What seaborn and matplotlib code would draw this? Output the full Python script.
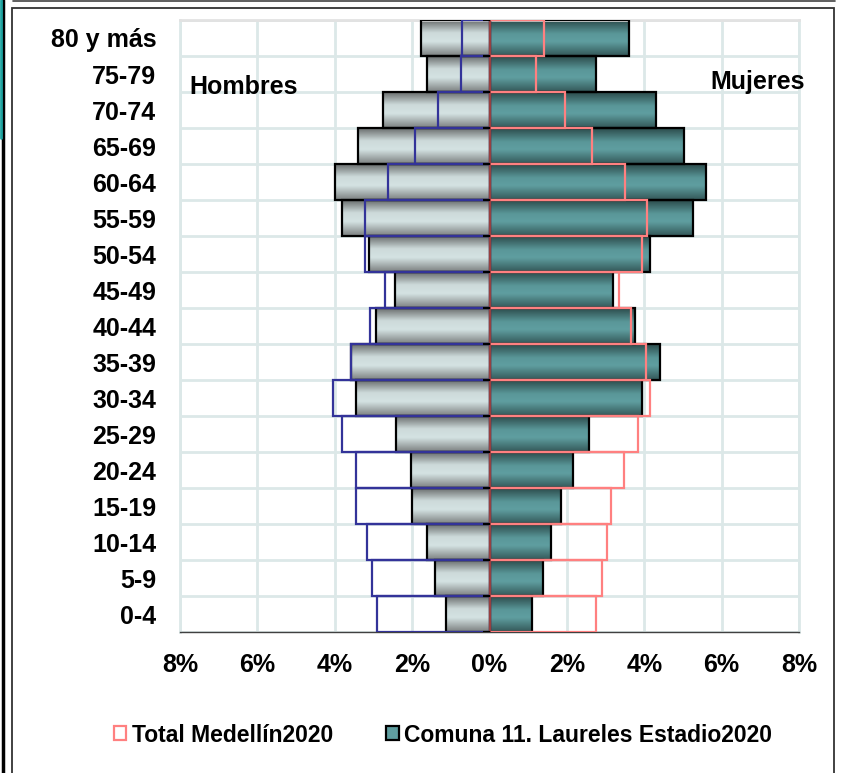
import numpy as np
import pandas as pd
import seaborn as sns
import matplotlib
matplotlib.use("Agg")
import matplotlib.pyplot as plt
from matplotlib.patches import Patch, Rectangle
from matplotlib.lines import Line2D
from matplotlib.colors import LinearSegmentedColormap

# datos (% de la poblacion total), de arriba hacia abajo
grupos = ["80 y más", "75-79", "70-74", "65-69", "60-64", "55-59", "50-54", "45-49",
          "40-44", "35-39", "30-34", "25-29", "20-24", "15-19", "10-14", "5-9", "0-4"]
hombres_comuna = [1.76, 1.61, 2.74, 3.40, 4.00, 3.82, 3.12, 2.43, 2.94, 3.57, 3.44,
                  2.41, 2.04, 2.01, 1.62, 1.40, 1.13]
hombres_medellin = [0.72, 0.74, 1.34, 1.93, 2.62, 3.21, 3.22, 2.71, 3.08, 3.58, 4.05,
                    3.82, 3.44, 3.45, 3.17, 3.03, 2.90]
mujeres_comuna = [3.61, 2.75, 4.30, 5.02, 5.59, 5.26, 4.14, 3.18, 3.75, 4.40, 3.93,
                  2.56, 2.15, 1.85, 1.59, 1.38, 1.09]
mujeres_medellin = [1.40, 1.19, 1.96, 2.64, 3.51, 4.08, 3.94, 3.35, 3.67, 4.04, 4.16,
                    3.85, 3.48, 3.14, 3.04, 2.91, 2.75]
xticks = [-8, -6, -4, -2, 0, 2, 4, 6, 8]

df = pd.DataFrame({
    "grupo": grupos,
    "h_comuna": [-v for v in hombres_comuna],
    "h_med": [-v for v in hombres_medellin],
    "m_comuna": mujeres_comuna,
    "m_med": mujeres_medellin,
})

sns.set_style("white")
plt.rcParams["font.family"] = ["Liberation Sans", "DejaVu Sans"]
plt.rcParams["font.weight"] = "bold"
plt.rcParams["text.color"] = "black"
plt.rcParams["xtick.labelcolor"] = "black"
plt.rcParams["ytick.labelcolor"] = "black"

fig = plt.figure(figsize=(8.44, 7.73), dpi=100)
ax = fig.add_axes([180 / 844, 1 - 632 / 773, 619 / 844, 612 / 773])

grid_col = "#DCE8E8"
ax.set_axisbelow(True)

# barras comuna (relleno con degradado despues)
n0 = len(ax.patches)
sns.barplot(data=df, x="h_comuna", y="grupo", orient="h", width=1.0,
            color="#CFDCDC", edgecolor="black", linewidth=1.6, ax=ax, zorder=2)
sns.barplot(data=df, x="m_comuna", y="grupo", orient="h", width=1.0,
            color="#5F9EA0", edgecolor="black", linewidth=1.6, ax=ax, zorder=2)
comuna_patches = ax.patches[n0:]
n_h = len(grupos)

# barras Medellin (solo contorno)
sns.barplot(data=df, x="h_med", y="grupo", orient="h", width=1.0,
            fill=False, edgecolor="#333399", linewidth=1.6, ax=ax, zorder=4)
sns.barplot(data=df, x="m_med", y="grupo", orient="h", width=1.0,
            fill=False, edgecolor="#FF8080", linewidth=1.6, ax=ax, zorder=4)

cmap_h = LinearSegmentedColormap.from_list(
    "h", [(0, "#6A6E6E"), (0.35, "#CDDADA"), (0.6, "#D4E2E2"), (1, "#7C8080")])
cmap_m = LinearSegmentedColormap.from_list(
    "m", [(0, "#2C4C4C"), (0.38, "#5A9799"), (0.6, "#5F9EA0"), (1, "#345858")])
grad = np.linspace(0, 1, 64).reshape(-1, 1)
for i, p in enumerate(comuna_patches):
    bb = p.get_bbox()
    cm = cmap_h if i < n_h else cmap_m
    im = ax.imshow(grad, cmap=cm, aspect="auto", interpolation="bicubic",
                   extent=[bb.x0, bb.x1, bb.y1, bb.y0], zorder=2)
    im.set_clip_path(p)
    p.set_facecolor("none")
    p.set_zorder(3)

ax.set_aspect("auto")
ax.set_xlim(-8, 8)
ax.set_ylim(len(grupos) - 0.5, -0.5)

# eje vertical en 0 y sus marcas
ax.axvline(0, color="#8B3A3A", lw=1.3, zorder=5)
ax.hlines(np.arange(-0.5, len(grupos), 1), -0.18, 0, color="black", lw=1.5, zorder=5)

ax.set_xticks(xticks)
ax.set_xticklabels([f"{abs(v)}%" for v in xticks], fontsize=18, fontweight="bold")
ax.set_yticks(range(len(grupos)))
ax.set_yticklabels(grupos, fontsize=18, fontweight="bold")
ax.set_yticks(np.arange(-0.5, len(grupos), 1), minor=True)
ax.tick_params(axis="y", which="both", length=0, pad=17)
ax.tick_params(axis="x", length=6, width=1, color="#404040", pad=9)
ax.grid(axis="x", which="major", color=grid_col, lw=2)
ax.grid(axis="y", which="minor", color=grid_col, lw=2)
ax.grid(axis="y", which="major", visible=False)
ax.set_xlabel("")
ax.set_ylabel("")

for s in ["left", "right"]:
    ax.spines[s].set_color(grid_col)
    ax.spines[s].set_linewidth(2)
ax.spines["top"].set_color("#E2E2E2")
ax.spines["top"].set_linewidth(2)
ax.spines["bottom"].set_color("#404040")
ax.spines["bottom"].set_linewidth(1)

ax.text(-7.75, 1.36, "Hombres", fontsize=18, fontweight="bold", ha="left", va="center", zorder=6)
ax.text(8.15, 1.22, "Mujeres", fontsize=18, fontweight="bold", ha="right", va="center",
        zorder=6, clip_on=False)

handles = [Patch(facecolor="white", edgecolor="#FF8080", linewidth=1.6),
           Patch(facecolor="#5F9EA0", edgecolor="black", linewidth=1.6)]
fig.legend(handles, ["Total Medellín2020", "Comuna 11. Laureles Estadio2020"],
           loc="center", bbox_to_anchor=(443 / 844, 1 - 735 / 773), ncol=2, frameon=False,
           prop={"size": 16.5, "weight": "bold"}, handlelength=0.55, handleheight=0.55,
           handletextpad=0.25, columnspacing=2.3)

# marco exterior del grafico
W, H = 844, 773
fig.add_artist(Rectangle((12 / W, -0.01), (834 - 12) / W, 1 - 8 / H + 0.01,
                         transform=fig.transFigure, fill=False, ec="#333333", lw=1.3))
fig.add_artist(Line2D([13 / W, 835 / W], [1 - 1 / H, 1 - 1 / H], transform=fig.transFigure,
                      color="#444444", lw=1.2))
fig.add_artist(Line2D([3 / W, 3 / W], [0, 1], transform=fig.transFigure, color="black", lw=2.5))
fig.add_artist(Line2D([1 / W, 1 / W], [1 - 138 / H, 1], transform=fig.transFigure,
                      color="#1FA3A0", lw=2))

fig.savefig("out.png", dpi=100)
